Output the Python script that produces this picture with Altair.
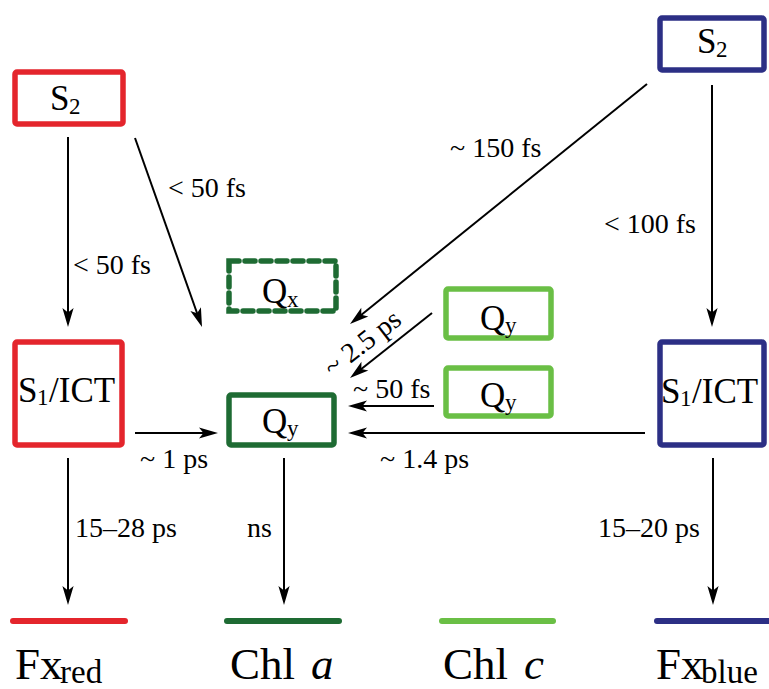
import math
import altair as alt
import pandas as pd

W, H = 769, 689

RED = "#e4252c"
NAVY = "#2c2f85"
DKGREEN = "#1e6b33"
LTGREEN = "#6abf45"

# State boxes: x0, x1, y0, y1 (stroke centre), colour, dashed
box_x0 = [15, 660, 15, 660, 229, 229, 446, 446]
box_x1 = [123, 764, 122, 764, 336, 334, 551, 551]
box_y0 = [72, 18, 342, 342, 261, 395, 289, 368]
box_y1 = [124, 70, 445, 445, 311, 445, 338, 416]
box_col = [RED, NAVY, RED, NAVY, DKGREEN, DKGREEN, LTGREEN, LTGREEN]
box_dash = [False, False, False, False, True, False, False, False]

# Ground-state levels
lvl_x0 = [13, 227, 442, 657]
lvl_x1 = [125, 339, 553, 768]
lvl_y = [621, 621, 621, 621]
lvl_col = [RED, DKGREEN, LTGREEN, NAVY]

# Transfer arrows: start -> tip
arr_x0 = [68, 135, 647, 712, 432, 434, 135, 645, 68, 284, 713]
arr_y0 = [137, 138, 84, 85, 313, 406, 433, 433, 458, 458, 458]
arr_x1 = [68, 202, 350, 712, 350, 348, 218, 348, 68, 284, 713]
arr_y1 = [327, 327, 324, 327, 378, 406, 433, 433, 605, 605, 605]

# Time-constant labels (left x, baseline)
lab_text = ["< 50 fs", "< 50 fs", "~ 150 fs", "< 100 fs", "~ 50 fs",
            "~ 1.4 ps", "~ 1 ps", "15–28 ps", "ns", "15–20 ps"]
lab_x = [73, 168, 450, 604, 353, 380, 140, 75, 247, 598]
lab_y = [274, 197, 157, 233, 398, 468, 468, 537, 537, 537]

rot_text = ["~ 2.5 ps"]
rot_x = [363]
rot_y = [344]
rot_angle = [322]

# State names, split into main and subscript pieces
st_text = ["S", "2", "S", "2", "S", "1", "/ICT", "S", "1", "/ICT",
           "Q", "x", "Q", "y", "Q", "y", "Q", "y"]
st_x = [50, 69, 697, 716, 18, 37, 49, 661, 680, 692,
        262, 287, 262, 287, 480, 505, 480, 505]
st_y = [110, 114, 53, 57, 402, 405, 402, 403, 406, 403,
        303, 307, 433, 436, 330, 333, 407, 410]
st_sub = [False, True, False, True, False, True, False, False, True, False,
          False, True, False, True, False, True, False, True]

# Pigment names along the bottom
pg_text = ["Fx", "red", "Chl", "a", "Chl", "c", "Fx", "blue"]
pg_x = [15, 60, 230, 311, 443, 524, 656, 701]
pg_y = [679, 683, 679, 679, 679, 679, 679, 683]
pg_sub = [False, True, False, False, False, False, False, True]
pg_ital = [False, False, False, True, False, True, False, False]

SERIF = "Liberation Serif"

xs = alt.Scale(domain=[0, W], range=[0, W], nice=False, zero=False)
ys = alt.Scale(domain=[0, H], range=[0, H], nice=False, zero=False)


def X(f):
    return alt.X(f, type="quantitative", scale=xs, axis=None)


def Y(f):
    return alt.Y(f, type="quantitative", scale=ys, axis=None)


boxes = pd.DataFrame(dict(x0=box_x0, x1=box_x1, y0=box_y0, y1=box_y1,
                          col=box_col, dash=box_dash))
solid = alt.Chart(boxes[~boxes.dash]).mark_rect(
    fill="white", strokeWidth=5.5, cornerRadius=2
).encode(x=X("x0"), x2="x1", y=Y("y0"), y2="y1",
         stroke=alt.Stroke("col:N", scale=None))
dashed = alt.Chart(boxes[boxes.dash]).mark_rect(
    fill="white", strokeWidth=5.5, strokeDash=[10, 6], strokeCap="round"
).encode(x=X("x0"), x2="x1", y=Y("y0"), y2="y1",
         stroke=alt.Stroke("col:N", scale=None))

levels = alt.Chart(pd.DataFrame(dict(x0=lvl_x0, x1=lvl_x1, y=lvl_y, col=lvl_col))
                   ).mark_rule(strokeWidth=6, strokeCap="round").encode(
    x=X("x0"), x2="x1", y=Y("y"), color=alt.Color("col:N", scale=None))

# Arrow shafts stop a little short of the tip; heads are rotated symbols
rows = []
for a, b, c, d in zip(arr_x0, arr_y0, arr_x1, arr_y1):
    dx, dy = c - a, d - b
    n = math.hypot(dx, dy)
    ang = math.degrees(math.atan2(dx, -dy)) % 360
    rows.append(dict(x0=a, y0=b, xe=c - 8 * dx / n, ye=d - 8 * dy / n,
                     tx=c, ty=d, ang=ang))
arr = pd.DataFrame(rows)

shafts = alt.Chart(arr).mark_rule(strokeWidth=2, color="black").encode(
    x=X("x0"), y=Y("y0"), x2="xe", y2="ye")
HEAD = "M0,0L-0.5,1.7L0,1.3L0.5,1.7Z"
heads = alt.Chart(arr).mark_point(
    shape=HEAD, filled=True, fill="black", opacity=1, strokeWidth=0, size=500
).encode(x=X("tx"), y=Y("ty"), angle=alt.Angle("ang:Q", scale=None))

labels = alt.Chart(pd.DataFrame(dict(t=lab_text, x=lab_x, y=lab_y))).mark_text(
    font=SERIF, fontSize=28, align="left", baseline="alphabetic", color="black"
).encode(x=X("x"), y=Y("y"), text="t:N")

rot = alt.Chart(pd.DataFrame(dict(t=rot_text, x=rot_x, y=rot_y, a=rot_angle))).mark_text(
    font=SERIF, fontSize=28, align="center", baseline="middle", color="black"
).encode(x=X("x"), y=Y("y"), text="t:N", angle=alt.Angle("a:Q", scale=None))

st = pd.DataFrame(dict(t=st_text, x=st_x, y=st_y,
                       fs=[23 if s else 35 for s in st_sub]))
states = alt.Chart(st).mark_text(
    font=SERIF, align="left", baseline="alphabetic", color="black"
).encode(x=X("x"), y=Y("y"), text="t:N", size=alt.Size("fs:Q", scale=None))

pg = pd.DataFrame(dict(t=pg_text, x=pg_x, y=pg_y, ital=pg_ital,
                       fs=[33 if s else 45 for s in pg_sub]))
pig_up = alt.Chart(pg[~pg.ital]).mark_text(
    font=SERIF, align="left", baseline="alphabetic", color="black"
).encode(x=X("x"), y=Y("y"), text="t:N", size=alt.Size("fs:Q", scale=None))
pig_it = alt.Chart(pg[pg.ital]).mark_text(
    font=SERIF, fontStyle="italic", align="left", baseline="alphabetic", color="black"
).encode(x=X("x"), y=Y("y"), text="t:N", size=alt.Size("fs:Q", scale=None))

chart = alt.layer(
    levels, shafts, heads, solid, dashed, labels, rot, states, pig_up, pig_it
).properties(
    width=W, height=H, padding=0, autosize=alt.AutoSizeParams(type="none"),
    background="white"
).configure_view(stroke=None)

chart.save("out.html", embed_options={"renderer": "svg", "actions": False})
